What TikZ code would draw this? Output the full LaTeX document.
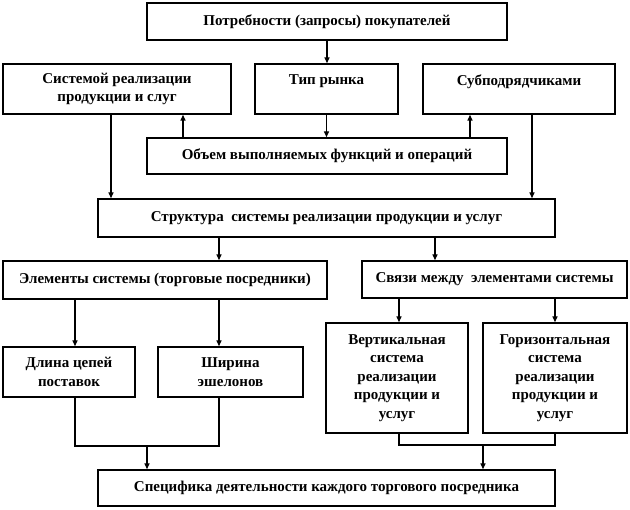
\documentclass[tikz,border=0pt]{standalone}
\usepackage{fontspec}
\setmainfont{Liberation Serif}
\usetikzlibrary{arrows.meta,positioning,calc}

\begin{document}
\begin{tikzpicture}[
        x=1pt, y=-1pt,
        font=\bfseries\fontsize{15}{18.5}\selectfont,
        block/.style={rectangle, draw=black, line width=1.4pt, align=center, inner sep=0pt},
        flow/.style={-{Triangle[length=6pt,width=5pt]}, line width=1.4pt},
        link/.style={line width=1.4pt}
    ]
    \useasboundingbox (0,0) rectangle (630,510);

    % Requirements and factors
    \node[block, minimum width=360, minimum height=37] (need) at (327,21.5) {Потребности (запросы) покупателей};
    \node[block, minimum width=228, minimum height=50] (sysreal) at (117,89) {Системой реализации\\продукции и слуг};
    \node[block, minimum width=143, minimum height=50] (market) at (326.5,89) {Тип рынка\\~};
    \node[block, minimum width=192, minimum height=50] (subcon) at (519,89) {Субподрядчиками\\~};
    \node[block, minimum width=360, minimum height=36] (volume) at (327,156) {Объем выполняемых функций и операций};

    % Structure
    \node[block, minimum width=457, minimum height=38] (structure) at (326.5,218) {Структура~ системы реализации продукции и услуг};
    \node[block, minimum width=324, minimum height=38] (elements) at (165,280) {Элементы системы (торговые посредники)};
    \node[block, minimum width=265, minimum height=37] (links) at (494.5,279.5) {Связи между~ элементами системы};

    % Details
    \node[block, minimum width=132, minimum height=50] (length) at (69,372) {Длина цепей\\поставок};
    \node[block, minimum width=145, minimum height=50] (width) at (230.5,372) {Ширина\\эшелонов};
    \node[block, minimum width=142, minimum height=110] (vert) at (397,378) {Вертикальная\\система\\реализации\\продукции и\\услуг};
    \node[block, minimum width=144, minimum height=110] (horiz) at (555,378) {Горизонтальная\\система\\реализации\\продукции и\\услуг};
    \node[block, minimum width=457, minimum height=36] (spec) at (326.5,488) {Специфика деятельности каждого торгового посредника};

    % Flows
    \draw[flow] (need.south) -- (need.south |- market.north);
    \draw[flow] (market.south) -- (market.south |- volume.north);
    \draw[flow] ([xshift=-144]volume.north) -- ([xshift=-144]volume.north |- sysreal.south);
    \draw[flow] ([xshift=143]volume.north) -- ([xshift=143]volume.north |- subcon.south);
    \draw[flow] ([xshift=-6]sysreal.south) -- ([xshift=-6]sysreal.south |- structure.north);
    \draw[flow] ([xshift=13]subcon.south) -- ([xshift=13]subcon.south |- structure.north);

    \draw[flow] ([xshift=-107.5]structure.south) -- ([xshift=-107.5]structure.south |- elements.north);
    \draw[flow] ([xshift=108.5]structure.south) -- ([xshift=108.5]structure.south |- links.north);
    \draw[flow] ([xshift=6]length.north |- elements.south) -- ([xshift=6]length.north);
    \draw[flow] ([xshift=-11.5]width.north |- elements.south) -- ([xshift=-11.5]width.north);
    \draw[flow] ([xshift=2]vert.north |- links.south) -- ([xshift=2]vert.north);
    \draw[flow] (horiz.north |- links.south) -- (horiz.north);

    % Joins to the bottom block
    \coordinate (joinl) at (147,446);
    \coordinate (joinr) at (483,445);
    \draw[link] ([xshift=6]length.south) |- (joinl) -| ([xshift=-11.5]width.south);
    \draw[link] ([xshift=2]vert.south) |- (joinr) -| (horiz.south);
    \draw[flow] (joinl) -- (joinl |- spec.north);
    \draw[flow] (joinr) -- (joinr |- spec.north);

\end{tikzpicture}
\end{document}
